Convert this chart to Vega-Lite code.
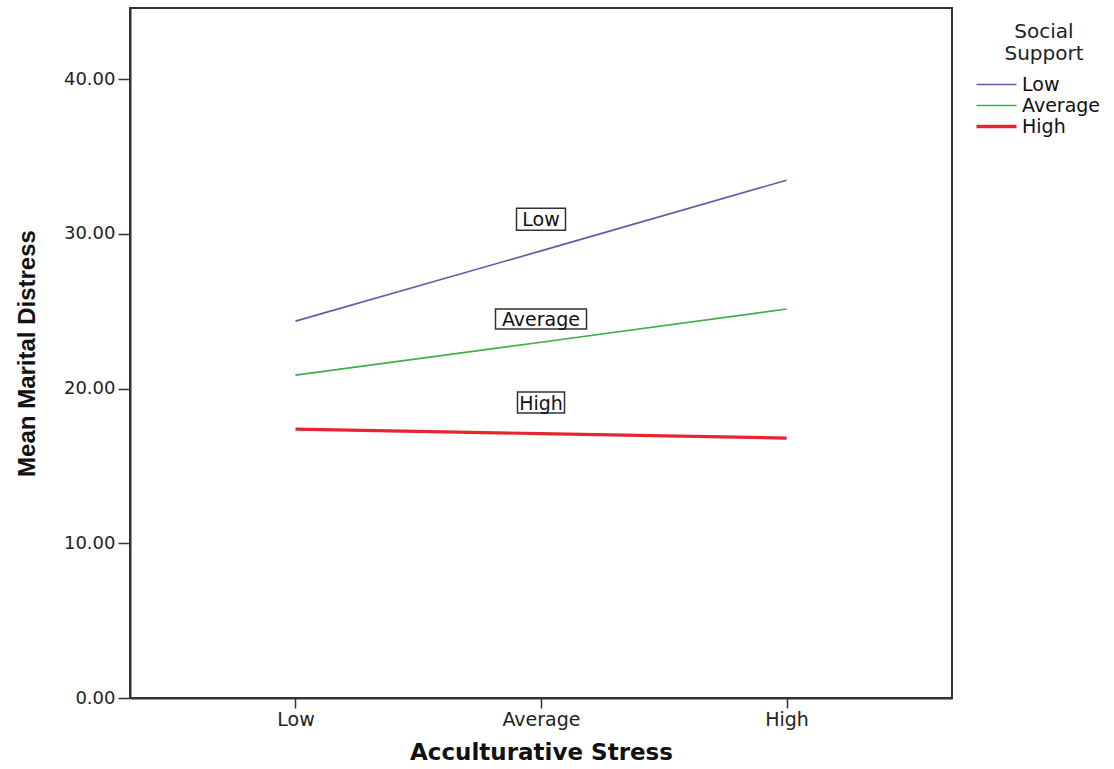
{
  "$schema": "https://vega.github.io/schema/vega-lite/v6.json",
  "width": 822,
  "height": 690,
  "autosize": {"type": "none"},
  "padding": {"left": 130, "top": 8, "right": 162, "bottom": 71},
  "background": "white",
  "config": {
    "view": {"stroke": "#333333", "strokeWidth": 2},
    "axis": {
      "domainColor": "#333333",
      "domainWidth": 2,
      "tickColor": "#333333",
      "tickWidth": 1.5,
      "labelColor": "#222222",
      "labelFont": "DejaVu Sans",
      "titleColor": "#111111",
      "grid": false
    }
  },
  "datasets": {
    "lines": [
      {"stress": "Low", "support": "Low", "value": 24.36},
      {"stress": "Average", "support": "Low", "value": 28.9},
      {"stress": "High", "support": "Low", "value": 33.47},
      {"stress": "Low", "support": "Average", "value": 20.87},
      {"stress": "Average", "support": "Average", "value": 23.0},
      {"stress": "High", "support": "Average", "value": 25.14},
      {"stress": "Low", "support": "High", "value": 17.38},
      {"stress": "Average", "support": "High", "value": 17.09},
      {"stress": "High", "support": "High", "value": 16.8}
    ],
    "labels": [
      {"stress": "Average", "label": "Low", "value": 30.95},
      {"stress": "Average", "label": "Average", "value": 24.49},
      {"stress": "Average", "label": "High", "value": 19.1}
    ]
  },
  "resolve": {"scale": {"shape": "independent"}},
  "encoding": {
    "x": {
      "field": "stress",
      "type": "nominal",
      "scale": {"type": "point", "domain": ["Low", "Average", "High"], "padding": 0.674},
      "axis": {
        "title": "Acculturative Stress",
        "titleFont": "DejaVu Sans",
        "titleFontWeight": "bold",
        "titleFontSize": 23,
        "titlePadding": 12,
        "labelFontSize": 19,
        "labelAngle": 0,
        "labelPadding": 2,
        "tickSize": 10
      }
    },
    "y": {
      "field": "value",
      "type": "quantitative",
      "scale": {"domain": [0, 44.6], "nice": false, "zero": true},
      "axis": {
        "title": "Mean Marital Distress",
        "titleFont": "Liberation Sans",
        "titleFontWeight": "bold",
        "titleFontSize": 24,
        "titlePadding": 24,
        "values": [0, 10, 20, 30, 40],
        "format": ".2f",
        "labelFontSize": 18,
        "labelPadding": 3,
        "tickSize": 12
      }
    }
  },
  "layer": [
    {
      "data": {"name": "lines"},
      "mark": {"type": "line"},
      "encoding": {
        "color": {
          "field": "support",
          "type": "nominal",
          "scale": {"domain": ["Low", "Average", "High"], "range": ["#5a5fa8", "#3fae49", "#e3262f"]},
          "legend": {
            "title": ["Social", "Support"],
            "orient": "none",
            "legendX": 857,
            "legendY": 14,
            "symbolType": "stroke",
            "symbolSize": 1600,
            "labelFont": "DejaVu Sans",
            "labelFontSize": 19,
            "labelColor": "#111111",
            "labelOffset": 16,
            "titleFont": "DejaVu Sans",
            "titleFontSize": 20,
            "titleFontWeight": "normal",
            "titleColor": "#222222",
            "titleAlign": "center",
            "titleAnchor": "middle",
            "titleLineHeight": 22,
            "titlePadding": 11,
            "rowPadding": 1,
            "encode": {
              "symbols": {
                "update": {
                  "shape": {"value": "stroke"},
                  "strokeWidth": {"signal": "datum.value === 'High' ? 3.4 : 1.6"}
                }
              }
            }
          }
        },
        "strokeWidth": {
          "condition": {"test": "datum.support === 'High'", "value": 3.2},
          "value": 1.6
        }
      }
    },
    {
      "data": {"name": "labels"},
      "mark": {"type": "point", "filled": false, "fill": "white", "fillOpacity": 1, "stroke": "#333333", "strokeWidth": 1.5, "size": 10000, "opacity": 1},
      "encoding": {
        "shape": {
          "field": "label",
          "type": "nominal",
          "scale": {
            "domain": ["Low", "Average", "High"],
            "range": [
              "M-0.49,-0.22L0.49,-0.22L0.49,0.22L-0.49,0.22Z",
              "M-0.91,-0.2L0.91,-0.2L0.91,0.2L-0.91,0.2Z",
              "M-0.47,-0.21L0.47,-0.21L0.47,0.21L-0.47,0.21Z"
            ]
          },
          "legend": null
        }
      }
    },
    {
      "data": {"name": "labels"},
      "mark": {"type": "text", "font": "DejaVu Sans", "fontSize": 19, "color": "#111111", "baseline": "middle", "align": "center", "dy": 1},
      "encoding": {
        "text": {"field": "label", "type": "nominal"}
      }
    }
  ]
}
